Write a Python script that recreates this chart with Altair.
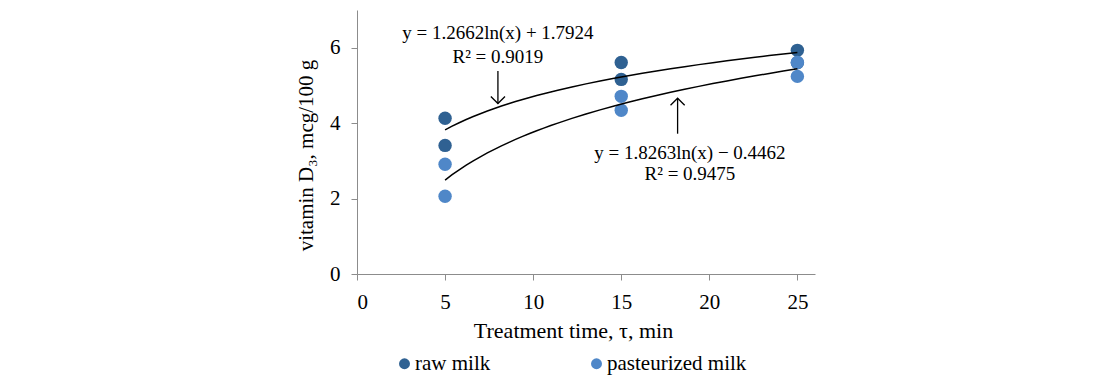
import altair as alt
import pandas as pd

# ---- data ----
series_names = ["raw milk", "pasteurized milk"]
raw_time = [5, 5, 15, 15, 25, 25]
raw_vitd = [4.13, 3.41, 5.61, 5.16, 5.93, 5.60]
past_time = [5, 5, 15, 15, 25, 25]
past_vitd = [2.91, 2.06, 4.71, 4.34, 5.61, 5.24]
colors = ["#2F6192", "#4F87C8"]

x_ticks = [0, 5, 10, 15, 20, 25]
y_ticks = [0, 2, 4, 6]

eq_text = ["y = 1.2662ln(x) + 1.7924", "R² = 0.9019",
           "y = 1.8263ln(x) − 0.4462", "R² = 0.9475"]
eq_x = [8.0, 8.0, 18.9, 18.9]
eq_y = [6.38, 5.75, 3.22, 2.66]

arrow_x = [8.0, 18.2]
arrow_from = [5.38, 3.72]
arrow_to = [4.52, 4.66]
arrow_dir = ["down", "up"]

FONT = "Liberation Serif"

df = pd.DataFrame({
    "time": raw_time + past_time,
    "value": raw_vitd + past_vitd,
    "series": [series_names[0]] * len(raw_time) + [series_names[1]] * len(past_time),
    "order": [0] * len(raw_time) + [1] * len(past_time),
})
ann = pd.DataFrame({"x": eq_x, "y": eq_y, "t": eq_text})
arr = pd.DataFrame({"x": arrow_x, "y0": arrow_from, "y1": arrow_to, "dir": arrow_dir})

xs = alt.Scale(domain=[0, 26], nice=False)
ys = alt.Scale(domain=[0, 7], nice=False)

base = alt.Chart(df)

points = base.mark_circle(size=180, opacity=1).encode(
    x=alt.X("time:Q", scale=xs, axis=alt.Axis(
        values=x_ticks, title="Treatment time, τ, min", grid=False,
        labelFont=FONT, labelFontSize=21, titleFont=FONT, titleFontSize=22,
        labelPadding=11,
        titleX=216, titleY=56, titleBaseline="middle", titleAnchor="middle")),
    y=alt.Y("value:Q", scale=ys, axis=alt.Axis(
        values=y_ticks, title="vitamin D₃, mcg/100 g", grid=False,
        labelFont=FONT, labelFontSize=21, titleFont=FONT, titleFontSize=21,
        labelPadding=11,
        titleX=-51, titleY=145, titleBaseline="middle", titleAlign="center")),
    color=alt.Color("series:N", scale=alt.Scale(domain=series_names, range=colors),
                    sort=series_names,
                    legend=alt.Legend(title=None, orient="none", direction="horizontal",
                                      legendX=37, legendY=343, symbolSize=120,
                                      symbolType="circle", columnPadding=95,
                                      labelFontSize=21, labelFont=FONT, labelOffset=0,
                                      symbolStrokeWidth=0, symbolOpacity=1)),
    order=alt.Order("order:Q"),
)

trend = base.transform_regression(
    "time", "value", method="log", groupby=["series"]
).mark_line(color="black", strokeWidth=1.5).encode(
    x=alt.X("time:Q", scale=xs),
    y=alt.Y("value:Q", scale=ys),
    detail="series:N",
)

texts = alt.Chart(ann).mark_text(fontSize=19, font=FONT, color="black").encode(
    x=alt.X("x:Q", scale=xs), y=alt.Y("y:Q", scale=ys), text="t:N")

shafts = alt.Chart(arr).mark_rule(color="black", strokeWidth=1.3).encode(
    x=alt.X("x:Q", scale=xs), y=alt.Y("y0:Q", scale=ys), y2="y1:Q")

heads_down = alt.Chart(arr).transform_filter(alt.datum.dir == "down").mark_point(
    shape="M-1,-1L0,0L1,-1", size=200, filled=False, color="black", strokeWidth=1.3, opacity=1
).encode(x=alt.X("x:Q", scale=xs), y=alt.Y("y1:Q", scale=ys))

heads_up = alt.Chart(arr).transform_filter(alt.datum.dir == "up").mark_point(
    shape="M-1,1L0,0L1,1", size=200, filled=False, color="black", strokeWidth=1.3, opacity=1
).encode(x=alt.X("x:Q", scale=xs), y=alt.Y("y1:Q", scale=ys))

chart = alt.layer(points, trend, shafts, heads_down, heads_up, texts).properties(
    width=458, height=264,
    autosize=alt.AutoSizeParams(type="none"),
    padding={"left": 349, "top": 2, "right": 290, "bottom": 105},
).configure(font=FONT).configure_axis(
    domainColor="#8C8C8C", tickColor="#8C8C8C", tickSize=6,
    labelFont=FONT, labelColor="black",
    titleFont=FONT, titleColor="black", titleFontWeight="normal",
).configure_legend(
    labelFont=FONT, labelColor="black"
).configure_view(stroke=None)

chart.save("out.html", embed_options={"renderer": "svg", "actions": False})
